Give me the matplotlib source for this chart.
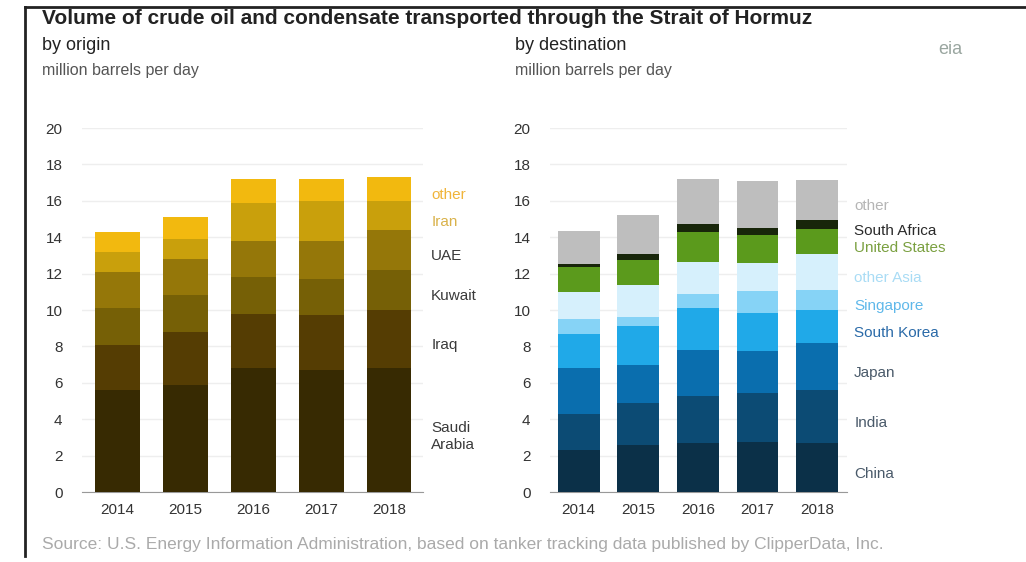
import numpy as np
import matplotlib
matplotlib.use("Agg")
import matplotlib.pyplot as plt

plt.rcParams["font.family"] = ["Liberation Sans", "DejaVu Sans"]

# data (million barrels per day)
years = ["2014", "2015", "2016", "2017", "2018"]

origin_names = ["Saudi\nArabia", "Iraq", "Kuwait", "UAE", "Iran", "other"]
saudi = [5.6, 5.9, 6.8, 6.7, 6.8]
iraq = [2.5, 2.9, 3.0, 3.0, 3.2]
kuwait = [2.0, 2.0, 2.0, 2.0, 2.2]
uae = [2.0, 2.0, 2.0, 2.1, 2.2]
iran = [1.1, 1.1, 2.1, 2.2, 1.6]
other_origin = [1.1, 1.2, 1.3, 1.2, 1.3]
origin_series = [saudi, iraq, kuwait, uae, iran, other_origin]
origin_colors = ["#372a02", "#553d03", "#766006", "#957709", "#c9a00c", "#f2b90f"]
origin_label_colors = ["#3a3a3a", "#3a3a3a", "#3a3a3a", "#3a3a3a", "#d9b24a", "#f0b43a"]

dest_names = ["China", "India", "Japan", "South Korea", "Singapore",
              "other Asia", "United States", "South Africa", "other"]
china = [2.3, 2.6, 2.7, 2.76, 2.7]
india = [2.0, 2.3, 2.6, 2.66, 2.9]
japan = [2.5, 2.1, 2.5, 2.3, 2.6]
korea = [1.9, 2.1, 2.3, 2.1, 1.8]
singapore = [0.8, 0.5, 0.8, 1.2, 1.1]
other_asia = [1.5, 1.75, 1.75, 1.56, 2.0]
usa = [1.35, 1.4, 1.65, 1.56, 1.33]
s_africa = [0.2, 0.35, 0.45, 0.37, 0.52]
other_dest = [1.8, 2.1, 2.45, 2.56, 2.19]
dest_series = [china, india, japan, korea, singapore, other_asia, usa, s_africa, other_dest]
dest_colors = ["#0b3048", "#0c4b74", "#0a6eae", "#20a9e8", "#86d3f6",
               "#d6f0fc", "#5b9a1c", "#18260a", "#bebebe"]
dest_label_colors = ["#4a5a6a", "#4a5a6a", "#4a5a6a", "#2a6aa8", "#5fb8ea",
                     "#a9dcf5", "#7aa040", "#2a2a2a", "#b5b5b5"]

W, H = 1026, 562
fig = plt.figure(figsize=(W / 100, H / 100), dpi=100)


def px_axes(x0, x1, y_top, y_bot):
    return fig.add_axes([x0 / W, 1 - y_bot / H, (x1 - x0) / W, (y_bot - y_top) / H])


def stacked(ax, series, colors, width, names, label_colors, xlim):
    x = np.arange(len(years))
    bottom = np.zeros(len(years))
    for vals, c in zip(series, colors):
        ax.bar(x, vals, width, bottom=bottom, color=c, edgecolor="none", zorder=3)
        bottom += np.array(vals)
    # labels next to the last bar, at segment middles
    last = np.cumsum([s[-1] for s in series])
    starts = np.concatenate([[0], last[:-1]])
    for name, lo, hi, lc in zip(names, starts, last, label_colors):
        ax.text(xlim[1] + 0.12, (lo + hi) / 2 - 0.35, name, color=lc, fontsize=11,
                va="center", ha="left", clip_on=False, linespacing=1.3)
    ax.set_xlim(*xlim)
    ax.set_ylim(0, 20)
    ax.set_yticks(range(0, 21, 2))
    ax.set_xticks(x)
    ax.set_xticklabels(years)
    ax.tick_params(length=0, labelsize=11, labelcolor="#333333", pad=8)
    ax.tick_params(axis="y", pad=14)
    for s in ["top", "right", "left"]:
        ax.spines[s].set_visible(False)
    ax.spines["bottom"].set_color("#999999")
    ax.grid(axis="y", color="#eeeeee", lw=1, zorder=0)


ax1 = px_axes(82, 423, 128, 492)
stacked(ax1, origin_series, origin_colors, 0.66, origin_names, origin_label_colors,
        (-0.52, 4.5))

ax2 = px_axes(550, 847, 128, 492)
stacked(ax2, dest_series, dest_colors, 0.70, dest_names, dest_label_colors,
        (-0.48, 4.5))

fig.text(42 / W, 1 - 19 / H, "Volume of crude oil and condensate transported through the Strait of Hormuz",
         fontsize=15, fontweight="bold", color="#222222", va="center")
fig.text(42 / W, 1 - 46 / H, "by origin", fontsize=13, color="#222222", va="center")
fig.text(42 / W, 1 - 71 / H, "million barrels per day", fontsize=11.5, color="#555555", va="center")
fig.text(515 / W, 1 - 46 / H, "by destination", fontsize=13, color="#222222", va="center")
fig.text(515 / W, 1 - 71 / H, "million barrels per day", fontsize=11.5, color="#555555", va="center")
fig.text(950 / W, 1 - 50 / H, "eia", fontsize=13, color="#9aa6a0", va="center", ha="center")
fig.text(42 / W, 1 - 545 / H,
         "Source: U.S. Energy Information Administration, based on tanker tracking data published by ClipperData, Inc.",
         fontsize=12.5, color="#aaaaaa", va="center")

# frame lines
fig.add_artist(plt.Line2D([25 / W, 1], [1 - 7 / H, 1 - 7 / H], color="#222222", lw=2))
fig.add_artist(plt.Line2D([25 / W, 25 / W], [1 - 7 / H, 1 - 556 / H], color="#222222", lw=2))

fig.savefig("out.png", dpi=100)
